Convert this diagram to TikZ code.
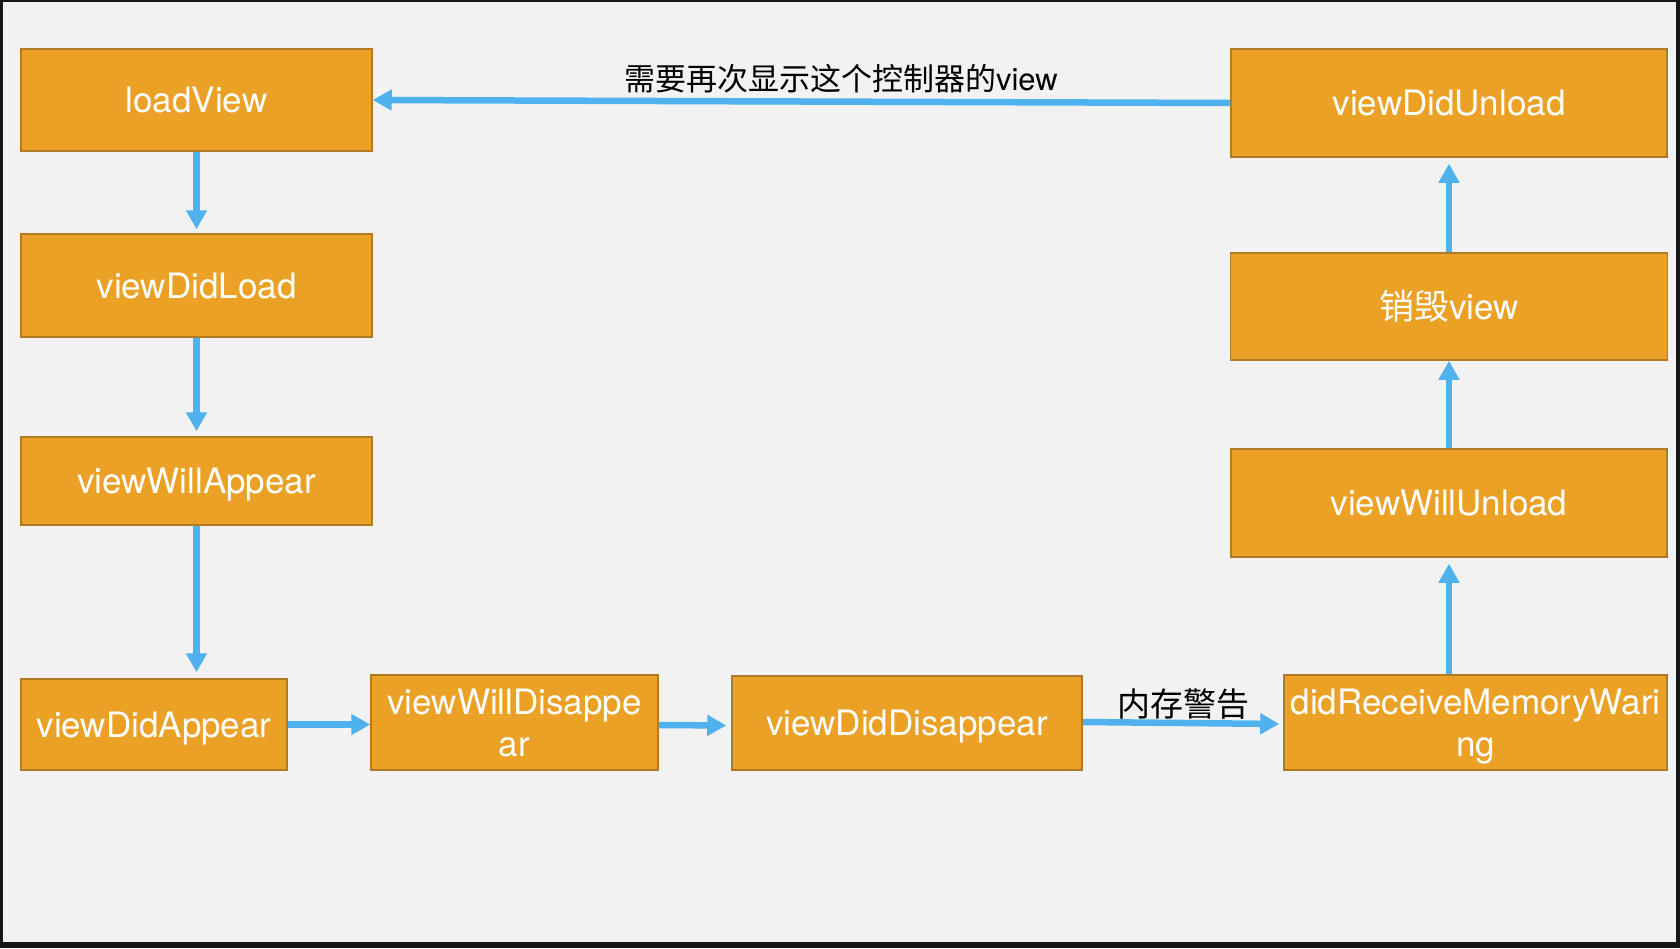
\documentclass[tikz,border=0pt]{standalone}
\usepackage{fontspec}
\setmainfont{TeX Gyre Heros}
\newfontfamily\cjk{Noto Sans CJK SC}
\usetikzlibrary{arrows.meta}
\definecolor{bgcol}{HTML}{F2F2F2}
\definecolor{framecol}{HTML}{161616}
\definecolor{boxfill}{HTML}{EBA125}
\definecolor{boxline}{HTML}{B07B22}
\definecolor{arrowblue}{HTML}{4FB2EE}
\begin{document}
\begin{tikzpicture}[x=1pt,y=-1pt,
  box/.style={draw=boxline, fill=boxfill, line width=1.5pt, text=white,
    font=\fontsize{35}{42}\selectfont, align=center, inner sep=0pt},
  oneline/.style={text height=25pt, text depth=0pt},
  flow/.style={draw=arrowblue, line width=6.5pt,
    -{Triangle[length=19pt,width=20pt]}},
  lbl/.style={font=\cjk\fontsize{33}{40}\selectfont, text=black, inner sep=0pt}]
\useasboundingbox (0,0) rectangle (1680,948);
\fill[framecol] (0,0) rectangle (1680,948);
\fill[bgcol] (3,2) rectangle (1676,942);

\node[box, oneline, minimum width=351pt, minimum height=102pt] (lv)   at (196.5,100)   {loadView};
\node[box, oneline, minimum width=351pt, minimum height=103pt] (vdl)  at (196.5,285.5) {viewDidLoad};
\node[box, oneline, minimum width=351pt, minimum height=88pt]  (vwa)  at (196.5,481)   {viewWillAppear};
\node[box, oneline, minimum width=266pt, minimum height=91pt]  (vda)  at (154,724.5)   {viewDidAppear};
\node[box, minimum width=287pt, minimum height=95pt]  (vwd)  at (514.5,722.5) {viewWillDisappe\\ar};
\node[box, oneline, minimum width=350pt, minimum height=94pt]  (vdd)  at (907,723)     {viewDidDisappear};
\node[box, minimum width=383pt, minimum height=95pt]  (drmw) at (1475.5,722.5) {didReceiveMemoryWari\\n\raisebox{0pt}[0pt][0pt]{g}};
\node[box, oneline, minimum width=436pt, minimum height=108pt] (vwu)  at (1449,503)    {viewWillUnload};
\node[box, oneline, minimum width=437pt, minimum height=107pt] (xh)   at (1449,306.5)  {{\cjk 销毁}view};
\node[box, oneline, minimum width=436pt, minimum height=108pt] (vdu)  at (1449,103)    {viewDidUnload};

\draw[flow, shorten >=4pt] (lv.south) -- (vdl.north);
\draw[flow, shorten >=5pt] (vdl.south) -- (vwa.north);
\draw[flow, shorten >=6pt] (vwa.south) -- (vwa.south |- vda.north);
\draw[flow] (vda.east) -- (vda.east -| vwd.west);
\draw[flow, shorten >=5pt] ([yshift=-2.5pt]vwd.east) -- ([yshift=-2.5pt]vdd.west);
\draw[flow, shorten >=4pt] ([yshift=1pt]vdd.east) -- ([yshift=-1.5pt]drmw.west)
  node[lbl, pos=0.5, anchor=base, yshift=7pt] (l2) {内存警告};
\draw[flow, shorten >=6pt] (drmw.north -| vwu.south) -- (vwu.south);
\draw[flow] (vwu.north) -- (xh.south);
\draw[flow, shorten >=6pt] (xh.north) -- (vdu.south);
\draw[flow] (vdu.west) -- (lv.east)
  node[lbl, font=\cjk\fontsize{31}{38}\selectfont, pos=0.454, anchor=base, yshift=11.5pt] (l1) {需要再次显示这个控制器的{\fontspec{TeX Gyre Heros}view}};
\end{tikzpicture}
\end{document}
